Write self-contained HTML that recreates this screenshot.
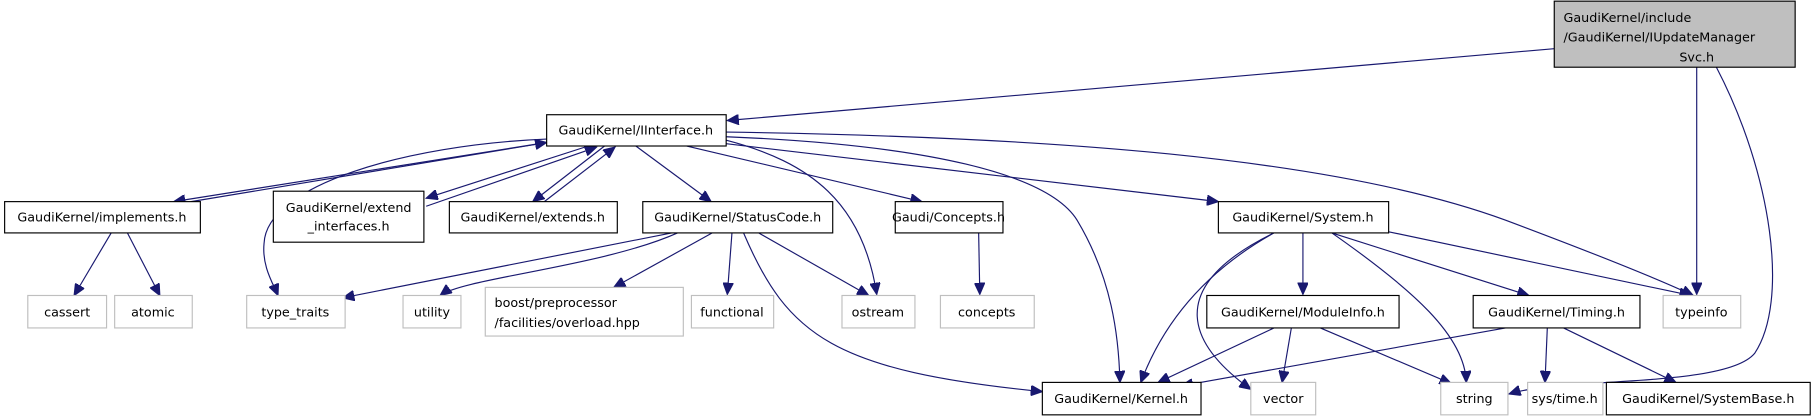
<!DOCTYPE html>
<html><head><meta charset="utf-8"><style>html,body{margin:0;padding:0;background:#fff}svg{display:block}</style></head><body>
<svg width="1816" height="416" viewBox="0 0 1568 359" preserveAspectRatio="none" xmlns="http://www.w3.org/2000/svg">
<defs><marker id="a" markerUnits="userSpaceOnUse" markerWidth="11" markerHeight="9" refX="10" refY="4.5" orient="auto"><path d="M0,0 L10,4.5 L0,9 z" fill="#191970" stroke="#191970"/></marker></defs>
<g fill="none" stroke="#191970" stroke-width="1" marker-end="url(#a)">
<path d="M1342,42 L628,104"/>
<path d="M1465,58 L1465,254"/>
<path d="M1482,58 C1530,150 1545,260 1515,305 C1490,335 1350,325 1303,340"/>
<path d="M478,122 L150,174"/>
<path d="M165,174 L472,123"/>
<path d="M508,126 L368,171"/>
<path d="M368,178 L515,127"/>
<path d="M522,126 L460,174"/>
<path d="M470,174 L531,127"/>
<path d="M549,126 L614,174"/>
<path d="M593,126 L796,174"/>
<path d="M627,124 L1052,174"/>
<path d="M627,114 C900,118 1150,135 1300,190 C1380,220 1430,240 1462,255"/>
<path d="M627,121 C700,140 745,175 757,254"/>
<path d="M627,118 C800,125 905,150 930,190 C960,240 966,290 967,330"/>
<path d="M472,120 C350,125 230,160 228,210 C226,230 236,245 240,255"/>
<path d="M96,201 L64,255"/>
<path d="M110,201 L138,255"/>
<path d="M580,201 L296,257"/>
<path d="M585,201 C520,230 400,240 380,255"/>
<path d="M615,201 L530,248"/>
<path d="M632,201 L628,254"/>
<path d="M642,201 C680,290 720,320 900,338"/>
<path d="M655,201 L750,255"/>
<path d="M845,201 L846,254"/>
<path d="M1100,201 C1030,240 1000,290 985,330"/>
<path d="M1100,201 C1000,250 1030,300 1080,336"/>
<path d="M1125,201 L1125,254"/>
<path d="M1150,201 C1220,250 1265,290 1266,330"/>
<path d="M1150,201 L1320,255"/>
<path d="M1199,200 L1460,255"/>
<path d="M1100,283 L1000,330"/>
<path d="M1115,283 L1107,330"/>
<path d="M1140,283 L1253,331"/>
<path d="M1300,283 L1020,333"/>
<path d="M1336,283 L1334,330"/>
<path d="M1350,283 L1447,330"/>
</g>
<g font-family="DejaVu Sans, Liberation Sans, sans-serif" font-size="11" fill="#000" text-anchor="middle">
<rect x="1342" y="1" width="208" height="57" fill="#bfbfbf" stroke="#000"/>
<text x="1350" y="19" text-anchor="start">GaudiKernel/include</text>
<text x="1350" y="36" text-anchor="start">/GaudiKernel/IUpdateManager</text>
<text x="1465" y="53">Svc.h</text>
<g stroke="#000" fill="#fff">
<rect x="472" y="99" width="155" height="27"/>
<rect x="4" y="174" width="169" height="27"/>
<rect x="236" y="165" width="130" height="44"/>
<rect x="388" y="174" width="145" height="27"/>
<rect x="555" y="174" width="164" height="27"/>
<rect x="773" y="174" width="93" height="27"/>
<rect x="1052" y="174" width="147" height="27"/>
<rect x="1042" y="255" width="166" height="28"/>
<rect x="1272" y="255" width="144" height="28"/>
<rect x="900" y="330" width="137" height="28"/>
<rect x="1387" y="330" width="176" height="28"/>
</g>
<g stroke="#bfbfbf" fill="#fff">
<rect x="24" y="255" width="68" height="28"/>
<rect x="99" y="255" width="67" height="28"/>
<rect x="213" y="255" width="85" height="28"/>
<rect x="348" y="255" width="50" height="28"/>
<rect x="419" y="248" width="171" height="42"/>
<rect x="597" y="255" width="71" height="28"/>
<rect x="727" y="255" width="63" height="28"/>
<rect x="812" y="255" width="81" height="28"/>
<rect x="1436" y="255" width="67" height="28"/>
<rect x="1080" y="330" width="56" height="28"/>
<rect x="1244" y="330" width="58" height="28"/>
<rect x="1319" y="330" width="65" height="28"/>
</g>
<text x="549" y="116">GaudiKernel/IInterface.h</text>
<text x="88" y="191">GaudiKernel/implements.h</text>
<text x="301" y="183">GaudiKernel/extend</text>
<text x="301" y="199">_interfaces.h</text>
<text x="460" y="191">GaudiKernel/extends.h</text>
<text x="637" y="191">GaudiKernel/StatusCode.h</text>
<text x="819" y="191">Gaudi/Concepts.h</text>
<text x="1125" y="191">GaudiKernel/System.h</text>
<text x="1125" y="273">GaudiKernel/ModuleInfo.h</text>
<text x="1344" y="273">GaudiKernel/Timing.h</text>
<text x="968" y="348">GaudiKernel/Kernel.h</text>
<text x="1475" y="348">GaudiKernel/SystemBase.h</text>
<text x="58" y="273">cassert</text>
<text x="132" y="273">atomic</text>
<text x="255" y="273">type_traits</text>
<text x="373" y="273">utility</text>
<text x="427" y="265" text-anchor="start">boost/preprocessor</text>
<text x="427" y="282" text-anchor="start">/facilities/overload.hpp</text>
<text x="632" y="273">functional</text>
<text x="758" y="273">ostream</text>
<text x="852" y="273">concepts</text>
<text x="1469" y="273">typeinfo</text>
<text x="1108" y="348">vector</text>
<text x="1273" y="348">string</text>
<text x="1351" y="348">sys/time.h</text>
</g>
</svg>
</body></html>
